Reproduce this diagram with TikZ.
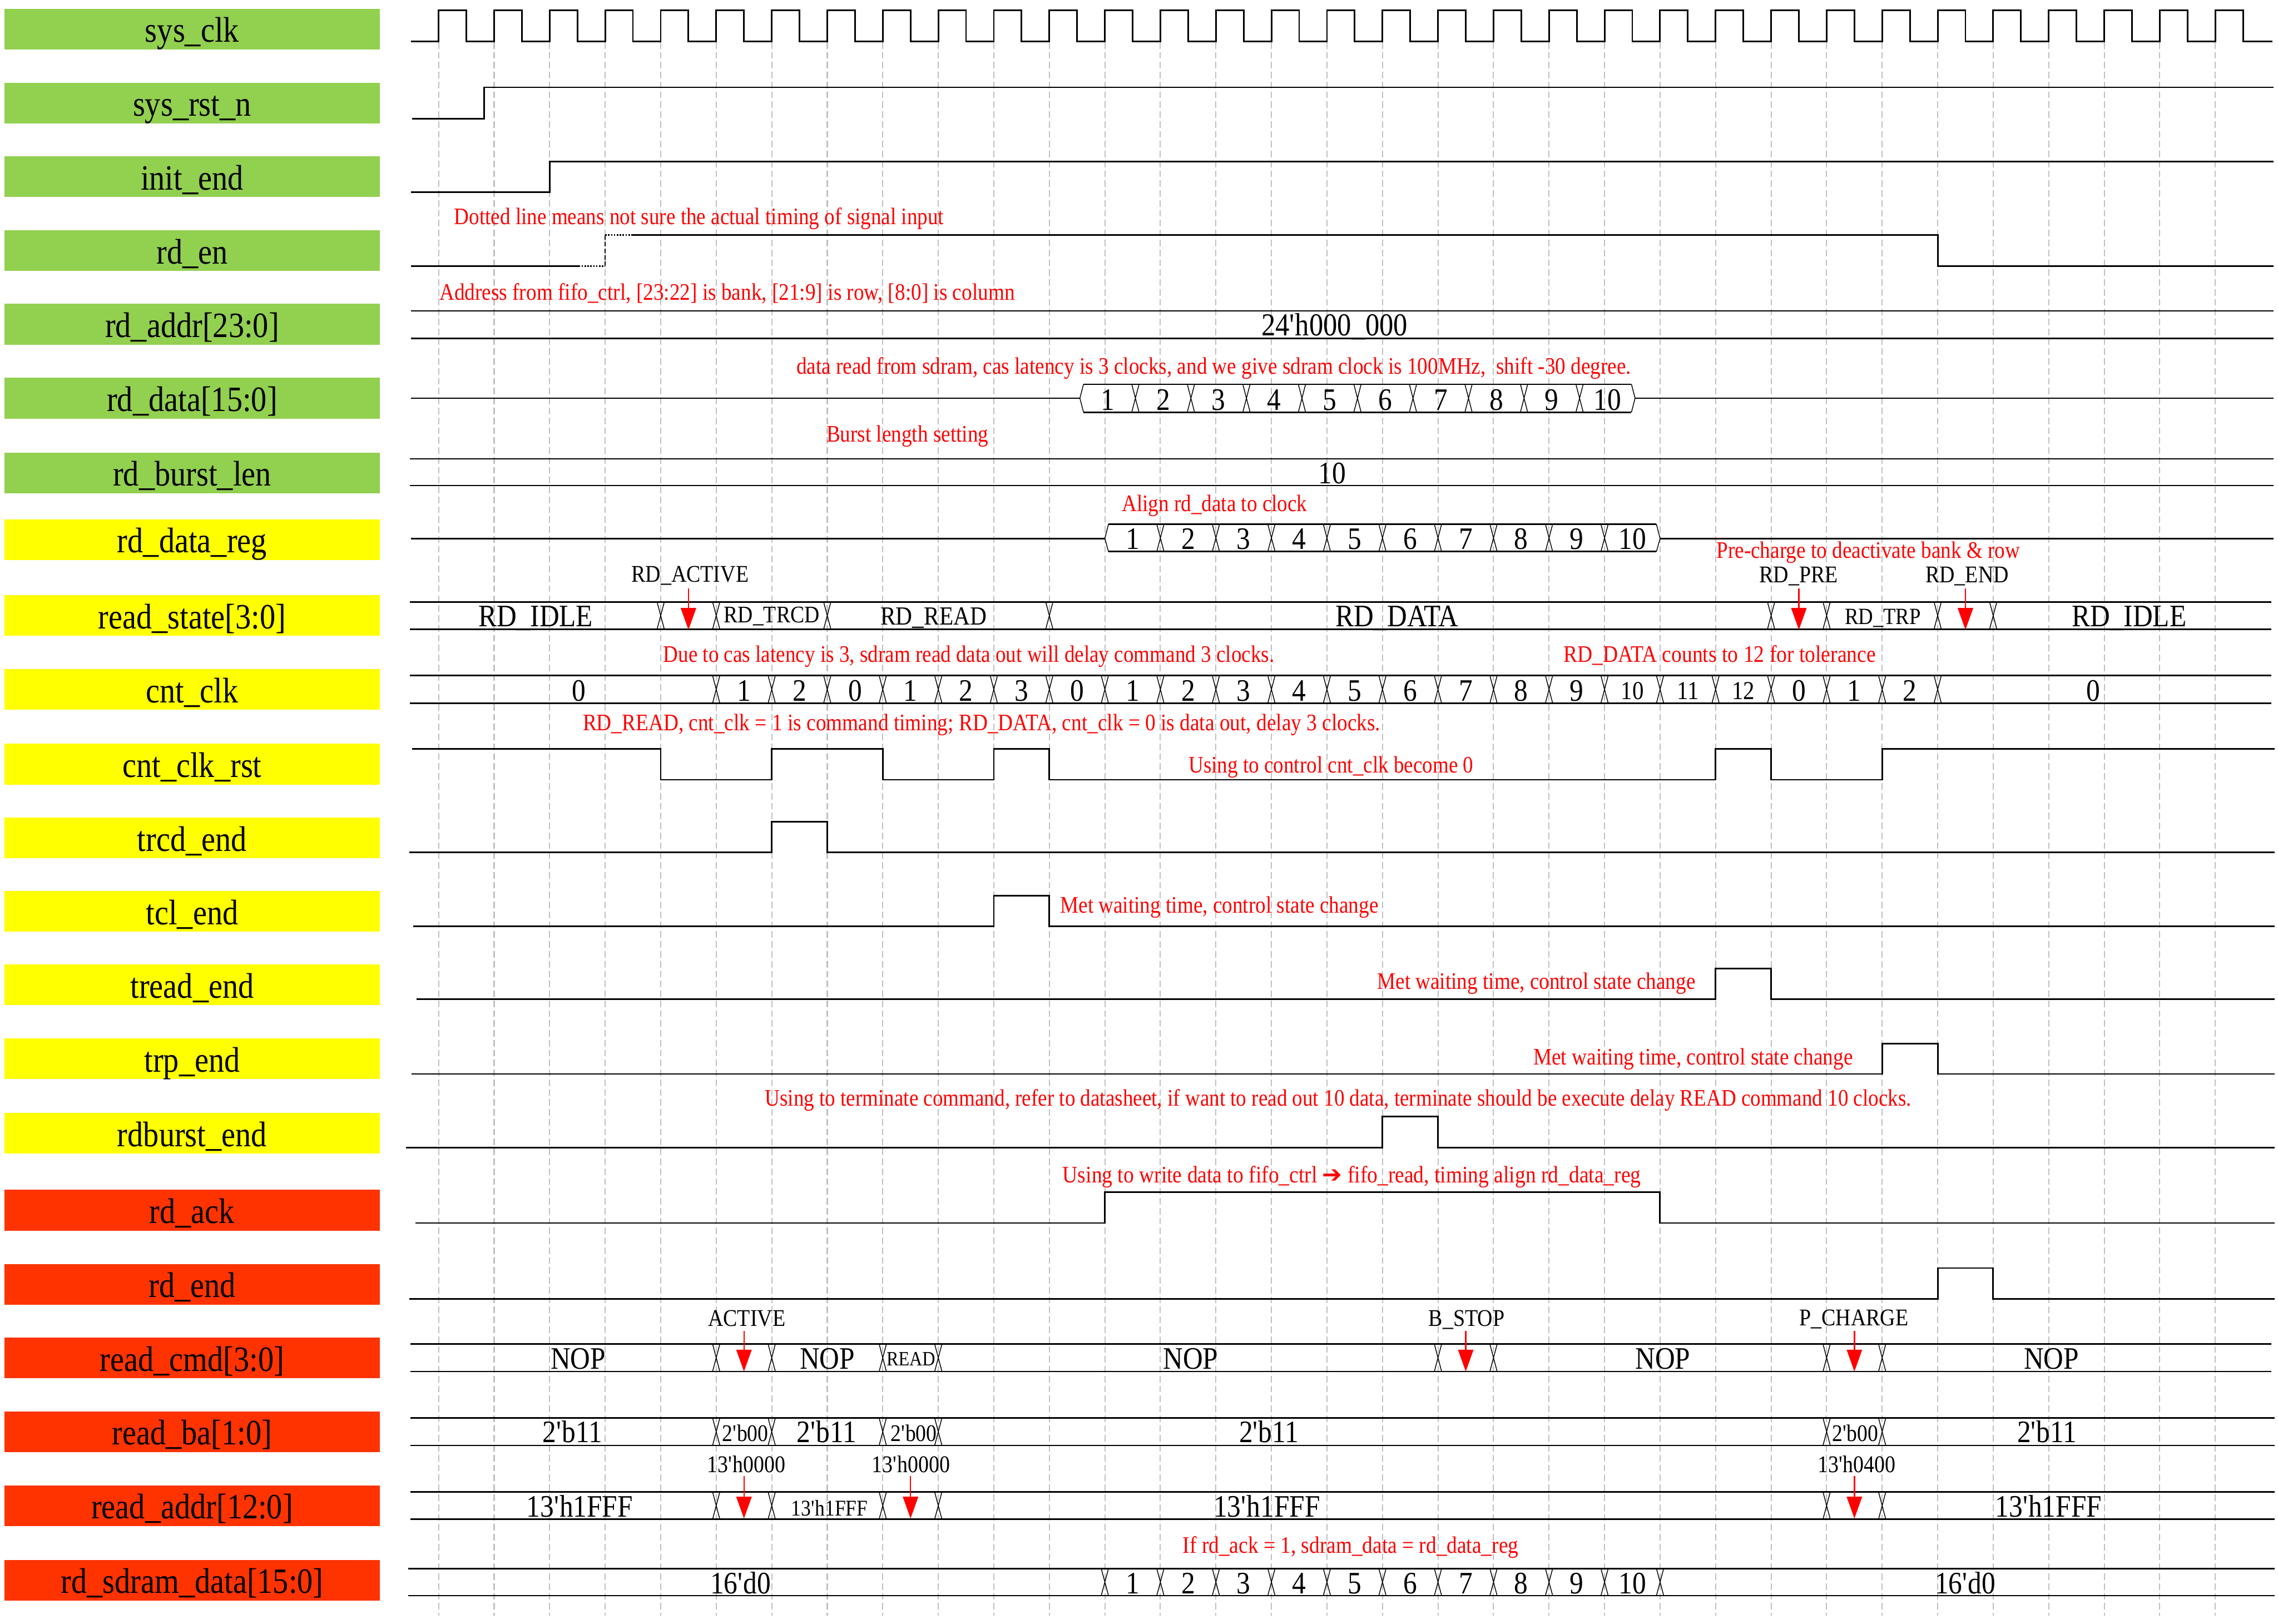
\documentclass[tikz,border=0pt]{standalone}
\usepackage{fontspec}
\usepackage{graphicx}
\setmainfont{Liberation Serif}[FakeStretch=0.88]
\newfontfamily\symfont{DejaVu Sans}
\usetikzlibrary{arrows.meta}
\definecolor{lgreen}{HTML}{92D050}
\definecolor{lyellow}{HTML}{FFFF00}
\definecolor{lred}{HTML}{FF3300}
\definecolor{gridc}{HTML}{C0C0C0}
\definecolor{annot}{HTML}{FF0000}
\newcommand\tpos[1]{(301.9+38.216*(#1))}
\newcommand\q{\textquotesingle}
\newlength\fitlen
\newcommand\fitto[2]{\settowidth{\fitlen}{#2}\pgfmathsetmacro\fitr{#1/\fitlen}\scalebox{\fitr}[1]{#2}}
\newcommand\busx[3]{\draw[xl] ({\tpos{#1}-2.5},#2) -- ({\tpos{#1}+2.5},#3) ({\tpos{#1}+2.5},#2) -- ({\tpos{#1}-2.5},#3);}
\begin{document}
\begin{tikzpicture}[x=1pt,y=-1pt,
  sig/.style={line width=1.1pt,line join=miter},
  xl/.style={line width=0.55pt},
  gridl/.style={draw=gridc,line width=0.8pt,dash pattern=on 4.5pt off 2.3pt},
  lbox/.style={draw=none,inner sep=0,minimum width=258.1pt,minimum height=28pt},
  lab/.style={inner sep=0,anchor=base,font=\fontsize{24.5}{26}\selectfont},
  val/.style={inner sep=0,anchor=base,font=\fontsize{21.5}{23}\selectfont},
  sval/.style={inner sep=0,anchor=base,font=\fontsize{16.4}{18}\selectfont},
  tag/.style={inner sep=0,anchor=base,font=\fontsize{16.5}{18}\selectfont},
  note/.style={inner sep=0,anchor=base west,text=annot,font=\fontsize{16.3}{18}\selectfont},
  rarr/.style={draw=annot,line width=0.9pt,-{Triangle[length=15pt,width=10.5pt,fill=annot]}}
]
\useasboundingbox (0,0) rectangle (1568,1117.7);
\fill[white] (0,0) rectangle (1568,1117.7);
% grid
\foreach \k in {0,...,32} \draw[gridl] ({\tpos{\k}},29) -- ({\tpos{\k}},1112);
% labels
\foreach \c/\col/\txt [count=\n] in {
  20/lgreen/sys\_clk, 70.9/lgreen/sys\_rst\_n, 121.7/lgreen/init\_end,
  172.5/lgreen/rd\_en, 223.2/lgreen/{rd\_addr[23:0]}, 274.1/lgreen/{rd\_data[15:0]},
  325.5/lgreen/rd\_burst\_len, 371.5/lyellow/rd\_data\_reg, 423.7/lyellow/{read\_state[3:0]},
  474.5/lyellow/cnt\_clk, 526/lyellow/cnt\_clk\_rst, 576.8/lyellow/trcd\_end,
  627.3/lyellow/tcl\_end, 677.8/lyellow/tread\_end, 728.7/lyellow/trp\_end,
  780/lyellow/rdburst\_end, 833/lred/rd\_ack, 884/lred/rd\_end,
  934.7/lred/{read\_cmd[3:0]}, 985.5/lred/{read\_ba[1:0]}, 1036.3/lred/{read\_addr[12:0]},
  1087.6/lred/{rd\_sdram\_data[15:0]}}
{ \node[lbox,fill=\col] (B\n) at (132.25,\c) {};
  \node[lab] (L\n) at (132.25,\c+9) {\txt}; }
% sys_clk
\draw[sig] (282.8,28.4) \foreach \k in {0,...,32}{ -- ({\tpos{\k}},28.4) -- ({\tpos{\k}},7.1) -- ({\tpos{\k+0.5}},7.1) -- ({\tpos{\k+0.5}},28.4)} -- (1564,28.4);
% sys_rst_n
\draw[sig] (283.5,81.6) -- (333.2,81.6) -- (333.2,60.1) -- (1565,60.1);
% init_end
\draw[sig] (283,132.2) -- ({\tpos{2}},132.2) -- ({\tpos{2}},111.1) -- (1565,111.1);
% rd_en
\draw[sig] (283,183.1) -- (398.3,183.1);
\draw[line width=1.1pt,dash pattern=on 1pt off 1pt] (398.3,183.1) -- ({\tpos{3}},183.1);
\draw[line width=0.8pt,dash pattern=on 3pt off 1.5pt] ({\tpos{3}},183.1) -- ({\tpos{3}},161.9);
\draw[line width=1.1pt,dash pattern=on 1pt off 1pt] ({\tpos{3}},161.9) -- ({\tpos{3.5}},161.9);
\draw[sig] ({\tpos{3.5}},161.9) -- ({\tpos{27}},161.9) -- ({\tpos{27}},183.1) -- (1565,183.1);
% rd_addr
\draw[sig] (283,214) -- (1565,214) (283,232.8) -- (1565,232.8);
\node[val,font=\fontsize{22}{24}\selectfont] (va) at (918.6,231) {24\q h000\_000};
% rd_data
\draw[sig] (283,274.1) -- ({\tpos{11.55}},274.1);
\draw[sig] ({\tpos{11.55}+2.5},264.5) -- ({\tpos{21.55}-2.5},264.5) ({\tpos{11.55}+2.5},283.7) -- ({\tpos{21.55}-2.5},283.7);
\draw[xl] ({\tpos{11.55}+2.5},264.5) -- ({\tpos{11.55}},274.1) -- ({\tpos{11.55}+2.5},283.7);
\draw[xl] ({\tpos{21.55}-2.5},264.5) -- ({\tpos{21.55}},274.1) -- ({\tpos{21.55}-2.5},283.7);
\draw[sig] ({\tpos{21.55}},274.1) -- (1565,274.1);
\foreach \k in {12,...,20} {\busx{\k+0.55}{264.5}{283.7}}
\foreach \k in {1,...,10} \node[val] (rdd\k) at ({\tpos{\k+11.05}},282.2) {\k};
% rd_burst_len
\draw[sig] (282.2,315.8) -- (1565,315.8) (282.2,334.2) -- (1565,334.2);
\node[val] (vb) at (917,332.8) {10};
% rd_data_reg
\draw[sig] (283,370.6) -- ({\tpos{12}},370.6);
\draw[sig] ({\tpos{12}+2.5},360.8) -- ({\tpos{22}-2.5},360.8) ({\tpos{12}+2.5},379.7) -- ({\tpos{22}-2.5},379.7);
\draw[xl] ({\tpos{12}+2.5},360.8) -- ({\tpos{12}},370.6) -- ({\tpos{12}+2.5},379.7);
\draw[xl] ({\tpos{22}-2.5},360.8) -- ({\tpos{22}},370.6) -- ({\tpos{22}-2.5},379.7);
\draw[sig] ({\tpos{22}},370.6) -- (1565,370.6);
\foreach \k in {13,...,21} {\busx{\k}{360.8}{379.7}}
\foreach \k in {1,...,10} \node[val] (rdr\k) at ({\tpos{\k+11.5}},378.1) {\k};
% read_state
\draw[sig] (282.2,414.3) -- (1563.4,414.3) (282.2,433.1) -- (1563.4,433.1);
\foreach \k in {4,5,7,11,24,25,27,28} {\busx{\k}{414.3}{433.1}}
\node[val] (rs1) at (368.7,431.3) {RD\_IDLE};
\node[sval] (rs2) at (531.2,428.5) {RD\_TRCD};
\node[sval,font=\fontsize{18}{20}\selectfont] (rs3) at (642.6,429.9) {RD\_READ};
\node[val] (rs4) at (961.5,431.3) {RD\_DATA};
\node[sval,font=\fontsize{16}{18}\selectfont] (rs5) at (1296,429.6) {RD\_TRP};
\node[val] (rs6) at (1465.5,431.3) {RD\_IDLE};
\node[tag] (ta1) at (475,400.6) {RD\_ACTIVE};
\node[tag] (ta2) at (1238,401) {RD\_PRE};
\node[tag] (ta3) at (1354,401) {RD\_END};
\foreach \k in {4.5,24.5,27.5} \draw[rarr] ({\tpos{\k}},405) -- ({\tpos{\k}},433.5);
% cnt_clk
\draw[sig] (282.2,465) -- (1563.4,465) (282.2,484) -- (1563.4,484);
\foreach \k in {5,...,27} {\busx{\k}{465}{484}}
\node[val] (cc0) at (398.4,482.4) {0};
\foreach \k/\s [count=\n] in {5/1,6/2,7/0,8/1,9/2,10/3,11/0,12/1,13/2,14/3,15/4,16/5,17/6,18/7,19/8,20/9,24/0,25/1,26/2}
  \node[val] (cc\n) at ({\tpos{\k+0.5}},482.4) {\s};
\foreach \k/\s [count=\n] in {21/10,22/11,23/12}
  \node[val,font=\fontsize{17.8}{19}\selectfont] (ccs\n) at ({\tpos{\k+0.5}},481.2) {\s};
\node[val] (ccz) at (1441,482.4) {0};
% cnt_clk_rst
\draw[sig] (283.7,515.4) -- ({\tpos{4}},515.4) -- ({\tpos{4}},536.7) -- ({\tpos{6}},536.7) -- ({\tpos{6}},515.4) -- ({\tpos{8}},515.4) -- ({\tpos{8}},536.7) -- ({\tpos{10}},536.7) -- ({\tpos{10}},515.4) -- ({\tpos{11}},515.4) -- ({\tpos{11}},536.7) -- ({\tpos{23}},536.7) -- ({\tpos{23}},515.4) -- ({\tpos{24}},515.4) -- ({\tpos{24}},536.7) -- ({\tpos{26}},536.7) -- ({\tpos{26}},515.4) -- (1565.5,515.4);
% trcd_end
\draw[sig] (281.8,586.8) -- ({\tpos{6}},586.8) -- ({\tpos{6}},565.7) -- ({\tpos{7}},565.7) -- ({\tpos{7}},586.8) -- (1565.5,586.8);
% tcl_end
\draw[sig] (284.3,637.6) -- ({\tpos{10}},637.6) -- ({\tpos{10}},616.4) -- ({\tpos{11}},616.4) -- ({\tpos{11}},637.6) -- (1565.5,637.6);
% tread_end
\draw[sig] (286.7,687.8) -- ({\tpos{23}},687.8) -- ({\tpos{23}},666.5) -- ({\tpos{24}},666.5) -- ({\tpos{24}},687.8) -- (1565.5,687.8);
% trp_end
\draw[sig] (283.4,739.2) -- ({\tpos{26}},739.2) -- ({\tpos{26}},718.2) -- ({\tpos{27}},718.2) -- ({\tpos{27}},739.2) -- (1565.5,739.2);
% rdburst_end
\draw[sig] (279.3,790) -- ({\tpos{17}},790) -- ({\tpos{17}},768.6) -- ({\tpos{18}},768.6) -- ({\tpos{18}},790) -- (1565.5,790);
% rd_ack
\draw[sig] (285.9,841.8) -- ({\tpos{12}},841.8) -- ({\tpos{12}},820.6) -- ({\tpos{22}},820.6) -- ({\tpos{22}},841.8) -- (1565.5,841.8);
% rd_end
\draw[sig] (281.8,894) -- ({\tpos{27}},894) -- ({\tpos{27}},872.8) -- ({\tpos{28}},872.8) -- ({\tpos{28}},894) -- (1565.5,894);
% read_cmd
\draw[sig] (282.4,925.1) -- (1563.4,925.1) (282.4,944) -- (1563.4,944);
\foreach \k in {5,6,8,9,18,19,25,26} {\busx{\k}{925.1}{944}}
\node[val] (rc1) at (398,942.4) {NOP};
\node[val] (rc2) at (569.5,942.4) {NOP};
\node[val,font=\fontsize{14}{16}\selectfont] (rc3) at (627,940) {READ};
\node[val] (rc4) at (819.6,942.4) {NOP};
\node[val] (rc5) at (1144.6,942.4) {NOP};
\node[val] (rc6) at (1412,942.4) {NOP};
\node[tag] (tc1) at (514,912.9) {ACTIVE};
\node[tag] (tc2) at (1009.5,912.9) {B\_STOP};
\node[tag] (tc3) at (1276,912.5) {P\_CHARGE};
\foreach \k in {5.5,18.5,25.5} \draw[rarr] ({\tpos{\k}},916) -- ({\tpos{\k}},944);
% read_ba
\draw[sig] (282.4,976) -- (1565.5,976) (282.4,994.9) -- (1565.5,994.9);
\foreach \k in {5,6,8,9,25,26} {\busx{\k}{976}{994.9}}
\node[val] (rb1) at (394,993) {2\q b11};
\node[sval] (rb2) at (513,992) {2\q b00};
\node[val] (rb3) at (569,993) {2\q b11};
\node[sval] (rb4) at (629,992) {2\q b00};
\node[val] (rb5) at (873.4,993) {2\q b11};
\node[sval] (rb6) at (1277,992) {2\q b00};
\node[val] (rb7) at (1409,993) {2\q b11};
% read_addr
\draw[sig] (282.4,1026.9) -- (1565.5,1026.9) (282.4,1045.7) -- (1565.5,1045.7);
\foreach \k in {5,6,8,9,25,26} {\busx{\k}{1026.9}{1045.7}}
\node[val] (ra1) at (399,1044) {13\q h1FFF};
\node[val,font=\fontsize{15.5}{17}\selectfont] (ra2) at (571,1043.4) {13\q h1FFF};
\node[val] (ra3) at (872,1044) {13\q h1FFF};
\node[val] (ra4) at (1410,1044) {13\q h1FFF};
\node[tag] (tr1) at (513.7,1013.6) {13\q h0000};
\node[tag] (tr2) at (627,1013.6) {13\q h0000};
\node[tag] (tr3) at (1278,1013.6) {13\q h0400};
\foreach \k in {5.5,8.5,25.5} \draw[rarr] ({\tpos{\k}},1016) -- ({\tpos{\k}},1045.2);
% rd_sdram_data
\draw[sig] (281,1079.6) -- (1565.5,1079.6) (281,1098.3) -- (1565.5,1098.3);
\foreach \k in {12,...,22} {\busx{\k}{1079.6}{1098.3}}
\node[val] (sd0) at (509.8,1097) {16\q d0};
\foreach \k in {1,...,10} \node[val] (sd\k) at ({\tpos{\k+11.5}},1097) {\k};
\node[val] (sdz) at (1352.7,1097) {16\q d0};
% annotations
\node[note] (n1) at (312.5,154.6) {\fitto{337}{Dotted line means not sure the actual timing of signal input}};
\node[note] (n2) at (302.3,206.6) {\fitto{396}{Address from fifo\_ctrl, [23:22] is bank, [21:9] is row, [8:0] is column}};
\node[note] (n3) at (548,257.5) {\fitto{574.6}{data read from sdram, cas latency is 3 clocks, and we give sdram clock is 100MHz,~ shift -30 degree.}};
\node[note] (n4) at (568.7,304) {\fitto{111.5}{Burst length setting}};
\node[note] (n5) at (772,352) {\fitto{127.6}{Align rd\_data to clock}};
\node[note] (n6) at (1181.3,384) {\fitto{209}{Pre-charge to deactivate bank \& row}};
\node[note] (n7) at (456.4,455.6) {\fitto{420.5}{Due to cas latency is 3, sdram read data out will delay command 3 clocks.}};
\node[note] (n8) at (1076,455.6) {\fitto{215}{RD\_DATA counts to 12 for tolerance}};
\node[note] (n9) at (401,503) {\fitto{549}{RD\_READ, cnt\_clk = 1 is command timing; RD\_DATA, cnt\_clk = 0 is data out, delay 3 clocks.}};
\node[note] (n10) at (818,532) {\fitto{196}{Using to control cnt\_clk become 0}};
\node[note] (n11) at (729.6,628.4) {\fitto{219}{Met waiting time, control state change}};
\node[note] (n12) at (947.8,681) {\fitto{219}{Met waiting time, control state change}};
\node[note] (n13) at (1055.2,733) {\fitto{220}{Met waiting time, control state change}};
\node[note] (n14) at (526.4,761.3) {\fitto{789}{Using to terminate command, refer to datasheet, if want to read out 10 data, terminate should be execute delay READ command 10 clocks.}};
\node[note] (n15) at (731.3,814) {\fitto{398}{Using to write data to fifo\_ctrl {\symfont ➔} fifo\_read, timing align rd\_data\_reg}};
\node[note] (n16) at (814,1069) {\fitto{231}{If rd\_ack = 1, sdram\_data = rd\_data\_reg}};
\end{tikzpicture}
\end{document}
